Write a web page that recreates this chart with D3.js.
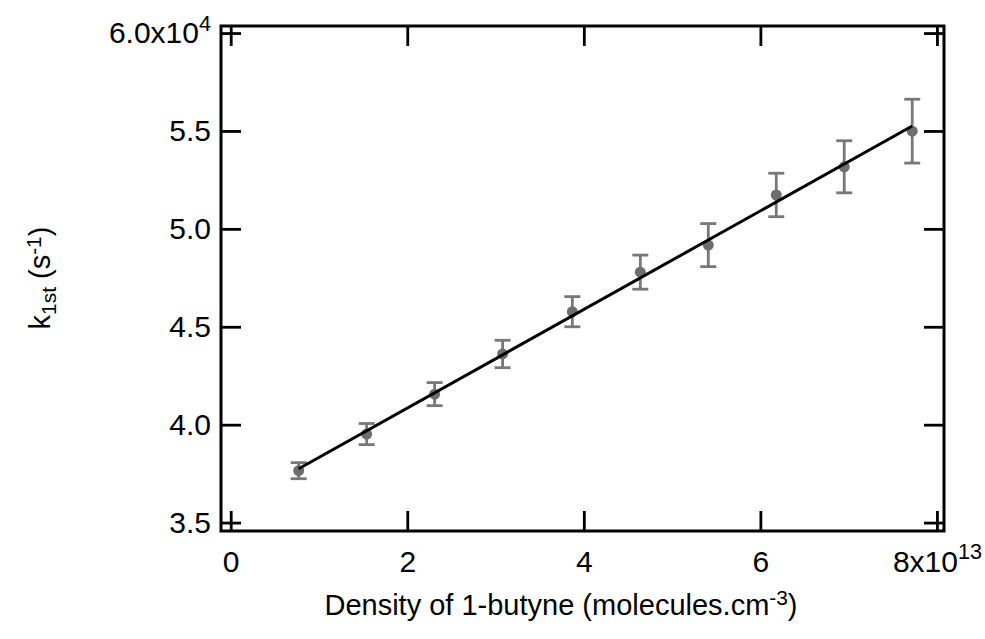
<!DOCTYPE html>
<html>
<head>
<meta charset="utf-8">
<script src="https://cdn.jsdelivr.net/npm/d3@7"></script>
<style>
  body { margin: 0; background: #fff; }
  text { font-family: Arial, "Liberation Sans", sans-serif; fill: #000; }
</style>
</head>
<body>
<div class="visHolder"></div>
<script>
// density of 1-butyne (x 1e13 molecules cm-3)
var density = [0.77, 1.54, 2.31, 3.08, 3.87, 4.64, 5.41, 6.18, 6.95, 7.72];
// k1st (x 1e4 s-1)
var k1st = [3.765, 3.952, 4.156, 4.361, 4.577, 4.779, 4.917, 5.173, 5.317, 5.499];
var k1stErr = [0.041, 0.054, 0.059, 0.070, 0.077, 0.087, 0.110, 0.111, 0.133, 0.163];
// linear fit endpoints
var fitX = [0.77, 7.72];
var fitY = [3.775, 5.525];

var xTicks = [0, 2, 4, 6, 8];
var xTickLabels = ["0", "2", "4", "6", "8x10"];
var yTicks = [3.5, 4.0, 4.5, 5.0, 5.5, 6.0];
var yTickLabels = ["3.5", "4.0", "4.5", "5.0", "5.5", "6.0x10"];

var width = 985,
    height = 639,
    plotLeft = 221,
    plotRight = 944,
    plotTop = 26,
    plotBottom = 531;

var svg = d3
    .select(".visHolder")
    .append("svg")
    .attr("width", width)
    .attr("height", height);

var xScale = d3.scaleLinear().domain([-0.11, 8.08]).range([plotLeft, plotRight]);
var yScale = d3.scaleLinear().domain([3.457, 6.036]).range([plotBottom, plotTop]);

var tickFont = 30;

// left axis with labels
var yAxis = d3.axisLeft(yScale)
    .tickValues(yTicks)
    .tickSizeInner(-20)
    .tickSizeOuter(0)
    .tickPadding(10)
    .tickFormat(function (d, i) { return yTickLabels[i]; });

var gy = svg.append("g")
    .attr("transform", "translate(" + plotLeft + ",0)")
    .call(yAxis);

// bottom axis with labels
var xAxis = d3.axisBottom(xScale)
    .tickValues(xTicks)
    .tickSizeInner(-20)
    .tickSizeOuter(0)
    .tickPadding(20)
    .tickFormat(function (d, i) { return xTickLabels[i]; });

var gx = svg.append("g")
    .attr("transform", "translate(0," + plotBottom + ")")
    .call(xAxis);

// mirror axes, ticks only
svg.append("g")
    .attr("transform", "translate(0," + plotTop + ")")
    .call(d3.axisTop(xScale).tickValues(xTicks).tickSizeInner(-20).tickSizeOuter(0).tickFormat(""));

svg.append("g")
    .attr("transform", "translate(" + plotRight + ",0)")
    .call(d3.axisRight(yScale).tickValues(yTicks).tickSizeInner(-20).tickSizeOuter(0).tickFormat(""));

svg.selectAll(".domain").remove();
svg.selectAll(".tick line").attr("stroke", "#000").attr("stroke-width", 2.8);
svg.selectAll(".tick text")
    .attr("fill", "#000")
    .style("font-size", tickFont + "px")
    .style("font-family", "Arial, 'Liberation Sans', sans-serif");

// exponents on last tick labels
gy.selectAll(".tick text")
    .filter(function (d) { return d === 6.0; })
    .append("tspan")
    .attr("dy", "-0.55em")
    .style("font-size", "0.72em")
    .text("4");

gx.selectAll(".tick text")
    .filter(function (d) { return d === 8; })
    .append("tspan")
    .attr("dy", "-0.6em")
    .style("font-size", "0.72em")
    .text("13");

// frame
svg.append("rect")
    .attr("x", plotLeft)
    .attr("y", plotTop)
    .attr("width", plotRight - plotLeft)
    .attr("height", plotBottom - plotTop)
    .attr("fill", "none")
    .attr("stroke", "#000")
    .attr("stroke-width", 3);

// error bars
var errColor = "#787878";
var bars = svg.append("g")
    .selectAll("g")
    .data(density)
    .enter()
    .append("g");

bars.append("line")
    .attr("x1", function (d) { return xScale(d); })
    .attr("x2", function (d) { return xScale(d); })
    .attr("y1", function (d, i) { return yScale(k1st[i] + k1stErr[i]); })
    .attr("y2", function (d, i) { return yScale(k1st[i] - k1stErr[i]); })
    .attr("stroke", errColor)
    .attr("stroke-width", 2.8);

[1, -1].forEach(function (s) {
    bars.append("line")
        .attr("x1", function (d) { return xScale(d) - 8; })
        .attr("x2", function (d) { return xScale(d) + 8; })
        .attr("y1", function (d, i) { return yScale(k1st[i] + s * k1stErr[i]); })
        .attr("y2", function (d, i) { return yScale(k1st[i] + s * k1stErr[i]); })
        .attr("stroke", errColor)
        .attr("stroke-width", 2.8);
});

bars.append("circle")
    .attr("cx", function (d) { return xScale(d); })
    .attr("cy", function (d, i) { return yScale(k1st[i]); })
    .attr("r", 5.5)
    .attr("fill", "#6e6e6e");

// fit line
svg.append("line")
    .attr("x1", xScale(fitX[0]))
    .attr("y1", yScale(fitY[0]))
    .attr("x2", xScale(fitX[1]))
    .attr("y2", yScale(fitY[1]))
    .attr("stroke", "#000")
    .attr("stroke-width", 3);

// axis titles
var xTitle = svg.append("text")
    .attr("x", 561)
    .attr("y", 615)
    .attr("text-anchor", "middle")
    .style("font-size", "29px");
xTitle.append("tspan").text("Density of 1-butyne (molecules.cm");
xTitle.append("tspan").attr("dy", "-0.5em").style("font-size", "0.72em").text("-3");
xTitle.append("tspan").attr("dy", "0.36em").text(")");

var yTitle = svg.append("text")
    .attr("transform", "translate(50,278) rotate(-90)")
    .attr("text-anchor", "middle")
    .style("font-size", "29px");
yTitle.append("tspan").text("k");
yTitle.append("tspan").attr("dy", "0.3em").style("font-size", "0.72em").text("1st");
yTitle.append("tspan").attr("dy", "-0.216em").text(" (s");
yTitle.append("tspan").attr("dy", "-0.45em").style("font-size", "0.72em").text("-1");
yTitle.append("tspan").attr("dy", "0.324em").text(")");
</script>
</body>
</html>
